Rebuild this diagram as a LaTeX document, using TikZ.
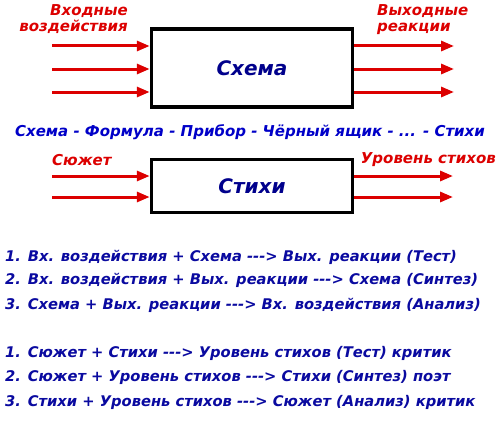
\documentclass[tikz,border=0pt]{standalone}
\usepackage{fontspec}
\setmainfont{DejaVu Sans}[BoldFont={DejaVu Sans Bold},ItalicFont={DejaVu Sans Oblique},BoldItalicFont={DejaVu Sans Bold Oblique}]
\usetikzlibrary{arrows.meta}
\definecolor{myred}{RGB}{220,0,0}
\definecolor{navyblue}{RGB}{0,0,140}
\definecolor{myblue}{RGB}{0,0,200}
\definecolor{listblue}{RGB}{10,10,160}
\newcommand{\arr}{-{}-{}->}
\begin{document}
\begin{tikzpicture}[x=1pt,y=-1pt,
  blackbox/.style={draw=black, line width=3.5pt, fill=white, inner sep=0pt},
  boxtext/.style={font=\fontsize{20}{24}\selectfont\bfseries\itshape, text=navyblue},
  redlabel/.style={font=\fontsize{15}{16}\selectfont\bfseries\itshape, text=myred, inner sep=0pt, align=right},
  sig/.style={draw=myred, line width=3pt, -{Triangle[length=13pt,width=10pt]}},
  listline/.style={font=\fontsize{14.7}{18}\selectfont\bfseries\itshape, text=listblue, anchor=west, inner sep=0pt},
]
\useasboundingbox (0,0) rectangle (500,420);
\fill[white] (0,0) rectangle (500,420);

% top box
\node[blackbox, minimum width=201pt, minimum height=78pt] (box1) at (252,68) {};
\node[boxtext] (t1) at (box1.center) {Схема};
\node[redlabel, anchor=north east] (inlab) at (128,4) {Входные\\воздействия};
\node[redlabel, anchor=north west, align=left] (outlab) at (377,4) {Выходные\\реакции};
\foreach \yy [count=\i] in {46,69,92} {
  \coordinate (ia\i) at (52,\yy);
  \coordinate (oa\i) at (454,\yy);
  \draw[sig] (ia\i) -- (ia\i -| box1.west);
  \draw[sig] (oa\i -| box1.east) -- (oa\i);
}

% middle line
\node[font=\fontsize{15}{18}\selectfont\bfseries\itshape, text=myblue, inner sep=0pt] (chain) at (250,132) {Схема - Формула - Прибор - Чёрный ящик - ... - Стихи};

% second box
\node[blackbox, minimum width=201pt, minimum height=53pt] (box2) at (252,186) {};
\node[boxtext] (t2) at (box2.center) {Стихи};
\node[redlabel, anchor=west] (inlab2) at (52,160) {Сюжет};
\node[redlabel, anchor=east] (outlab2) at (496,160) {Уровень стихов};
\foreach \yy [count=\i] in {176,197} {
  \coordinate (ib\i) at (52,\yy);
  \coordinate (ob\i) at (453,\yy);
  \draw[sig] (ib\i) -- (ib\i -| box2.west);
  \draw[sig] (ob\i -| box2.east) -- (ob\i);
}

% lists
\node[listline] (l1) at (5,257) {1. Вх. воздействия + Схема \arr{} Вых. реакции (Тест)};
\node[listline] (l2) at (5,280) {2. Вх. воздействия + Вых. реакции \arr{} Схема (Синтез)};
\node[listline] (l3) at (5,305) {3. Схема + Вых. реакции \arr{} Вх. воздействия (Анализ)};
\node[listline] (m1) at (5,353) {1. Сюжет + Стихи \arr{} Уровень стихов (Тест) критик};
\node[listline] (m2) at (5,377) {2. Сюжет + Уровень стихов \arr{} Стихи (Синтез) поэт};
\node[listline] (m3) at (5,402) {3. Стихи + Уровень стихов \arr{} Сюжет (Анализ) критик};
\end{tikzpicture}
\end{document}
